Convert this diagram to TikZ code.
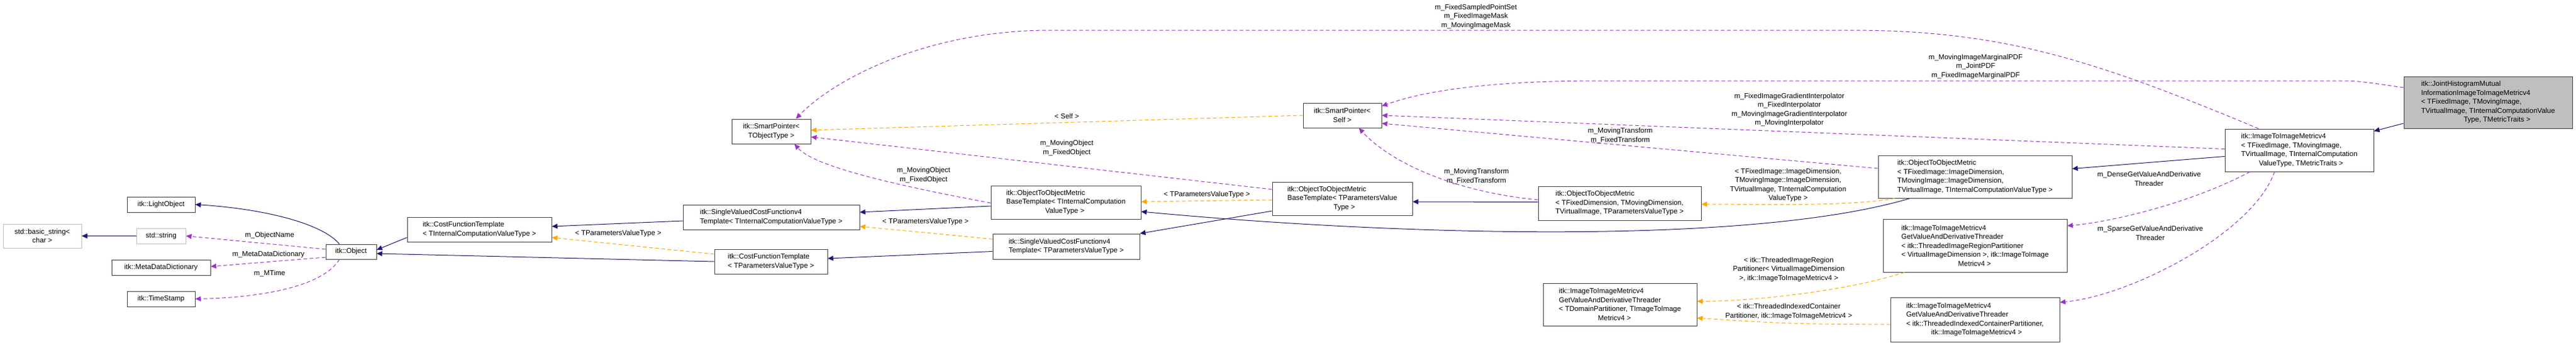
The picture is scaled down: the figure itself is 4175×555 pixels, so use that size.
\documentclass[tikz,border=0pt]{standalone}
\usepackage{fontspec}
\setmainfont{Liberation Sans}
\usetikzlibrary{arrows.meta,calc}
\definecolor{inhc}{RGB}{25,25,112}
\definecolor{usec}{RGB}{153,50,204}
\definecolor{tplc}{RGB}{255,165,0}
\definecolor{grayb}{RGB}{191,191,191}
\tikzset{
  box/.style={draw=black!75,line width=1pt,fill=white,inner sep=3pt,font=\fontsize{11.5}{14.5}\selectfont,align=left},
  extbox/.style={box,draw=grayb,align=center},
  inh/.style={draw=inhc,line width=1pt,-{Triangle[length=9pt,width=8pt]}},
  use/.style={draw=usec,line width=1pt,dash pattern=on 6pt off 4pt,-{Triangle[length=9pt,width=8pt,fill=usec]}},
  tpl/.style={draw=tplc,line width=1pt,dash pattern=on 6pt off 4pt,-{Triangle[length=9pt,width=8pt,fill=tplc]}},
  lbl/.style={font=\fontsize{11.5}{14.5}\selectfont,align=center,inner sep=0pt}
}
\newcommand{\bx}[7]{\node[#1,minimum width=#4pt-#2pt,minimum height=#5pt-#3pt] (#6) at ({(#2+#4)/2},{(#3+#5)/2}) {#7};}
\begin{document}
\begin{tikzpicture}[x=1pt,y=-1pt]
\useasboundingbox (0,0) rectangle (4175,555);
\bx{extbox}{5}{363}{132}{402}{basic}{std::basic\_string<\\char >}
\bx{extbox}{221}{370}{301}{395}{string}{std::string}
\bx{box}{206}{319}{316}{344}{light}{itk::LightObject}
\bx{box}{181}{421}{341}{446}{mdd}{itk::MetaDataDictionary}
\bx{box}{206}{472}{316}{497}{ts}{itk::TimeStamp}
\bx{box}{528}{396}{610}{420}{obj}{itk::Object}
\bx{box}{660}{352}{894}{392}{cftI}{itk::CostFunctionTemplate\\< TInternalComputationValueType >}
\bx{box}{1158}{404}{1341}{444}{cftP}{itk::CostFunctionTemplate\\< TParametersValueType >}
\bx{box}{1107}{332}{1393}{372}{svI}{itk::SingleValuedCostFunctionv4\\Template< TInternalComputationValueType >}
\bx{box}{1609}{379}{1847}{420}{svP}{itk::SingleValuedCostFunctionv4\\Template< TParametersValueType >}
\bx{box,align=center}{1186}{193}{1314}{233}{spT}{itk::SmartPointer<\\TObjectType >}
\bx{box}{1606}{301}{1849}{355}{obI}{itk::ObjectToObjectMetric\\BaseTemplate< TInternalComputation\\\hspace*{5.5em}ValueType >}
\bx{box}{2062}{295}{2289}{349}{obP}{itk::ObjectToObjectMetric\\BaseTemplate< TParametersValue\\\hspace*{6.5em}Type >}
\bx{box,align=center}{2112}{167}{2239}{207}{spS}{itk::SmartPointer<\\Self >}
\bx{box}{2493}{302}{2757}{357}{otD}{itk::ObjectToObjectMetric\\< TFixedDimension, TMovingDimension,\\ TVirtualImage, TParametersValueType >}
\bx{box}{3044}{252}{3358}{321}{otI}{itk::ObjectToObjectMetric\\< TFixedImage::ImageDimension,\\ TMovingImage::ImageDimension,\\ TVirtualImage, TInternalComputationValueType >}
\bx{box}{3606}{209}{3847}{278}{i2i}{itk::ImageToImageMetricv4\\< TFixedImage, TMovingImage,\\ TVirtualImage, TInternalComputation\\\hspace*{2.5em}ValueType, TMetricTraits >}
\bx{box,fill=grayb}{3896}{124}{4169}{208}{jh}{itk::JointHistogramMutual\\InformationImageToImageMetricv4\\< TFixedImage, TMovingImage,\\ TVirtualImage, TInternalComputationValue\\\hspace*{6em}Type, TMetricTraits >}
\bx{box}{2501}{459}{2750}{528}{gD}{itk::ImageToImageMetricv4\\GetValueAndDerivativeThreader\\< TDomainPartitioner, TImageToImage\\\hspace*{5.5em}Metricv4 >}
\bx{box}{3052}{355}{3350}{441}{gR}{itk::ImageToImageMetricv4\\GetValueAndDerivativeThreader\\< itk::ThreadedImageRegionPartitioner\\< VirtualImageDimension >, itk::ImageToImage\\\hspace*{8em}Metricv4 >}
\bx{box}{3064}{482}{3338}{554}{gX}{itk::ImageToImageMetricv4\\GetValueAndDerivativeThreader\\< itk::ThreadedIndexedContainerPartitioner,\\\hspace*{3.5em}itk::ImageToImageMetricv4 >}
% inheritance
\draw[inh] ($(obj.north)+(-19,0)$) .. controls (520,360) and (420,338) .. (light.east);
\draw[inh] (string.west) -- (basic.east|-string.west);
\draw[inh] ($(cftI.west)+(0,13)$) -- ($(obj.east)+(0,-3)$);
\draw[inh] (cftP.west) -- ($(obj.east)+(0,3)$);
\draw[inh] ($(svI.west)+(0,6)$) -- ($(cftI.east)+(0,-5)$);
\draw[inh] ($(svP.west)+(0,8)$) -- ($(cftP.east)+(0,-5)$);
\draw[inh] ($(obI.west)+(0,6)$) -- ($(svI.east)+(0,-8)$);
\draw[inh] ($(obP.west)+(0,20)$) -- (svP.north east);
\draw[inh] ($(otD.west)+(0,-2)$) -- ($(obP.east)+(0,5)$);
\draw[inh] ($(otI.south west)+(52,0)$) .. controls (2850,395) and (2300,385) .. ($(obI.east)+(0,15)$);
\draw[inh] ($(i2i.west)+(0,10)$) -- ($(otI.east)+(0,-13)$);
\draw[inh] ($(jh.west)+(0,34)$) -- ($(i2i.north east)+(0,4)$);
% templates
\draw[tpl] (spS.west) -- ($(spT.east)+(0,-2)$);
\draw[tpl] ($(cftP.west)+(0,-12)$) -- ($(cftI.east)+(0,13)$);
\draw[tpl] ($(svP.west)+(0,-12)$) -- ($(svI.east)+(0,15)$);
\draw[tpl] ($(obP.west)+(0,2)$) -- ($(obI.east)+(0,-1)$);
\draw[tpl] ($(otI.south west)+(27,0)$) .. controls (3000,335) and (2850,331) .. ($(otD.east)+(0,1.5)$);
\draw[tpl] ($(gR.south west)+(35,0)$) .. controls (3000,470) and (2850,488) .. ($(gD.east)+(0,-5)$);
\draw[tpl] ($(gX.west)+(0,8)$) .. controls (2900,525) .. ($(gD.east)+(0,22)$);
% usage
\draw[use] ($(obj.west)+(0,-4)$) -- (string.east);
\draw[use] ($(obj.west)+(0,9)$) -- ($(mdd.east)+(0,-1.5)$);
\draw[use] ($(obj.south)+(-19,0)$) .. controls (520,470) and (400,483) .. (ts.east);
\draw[use] ($(obI.west)+(0,1)$) .. controls (1450,300) and (1320,270) .. ($(spT.south east)+(-27,0)$);
\draw[use] ($(obP.west)+(0,-15)$) -- ($(spT.east)+(0,9)$);
\draw[use] ($(i2i.north)+(-66,0)$) .. controls (3400,100) and (3250,49) .. (3000,49) -- (1702,49) .. controls (1500,49) and (1350,130) .. ($(spT.north)+(40,0)$);
\draw[use] ($(jh.west)+(0,-24)$) .. controls (3820,131) .. (3787,131) -- (2592,131) .. controls (2400,131) and (2300,150) .. ($(spS.east)+(0,-15)$);
\draw[use] ($(i2i.west)+(0,-2)$) -- (spS.east);
\draw[use] ($(otI.west)+(0,-13.5)$) -- ($(spS.east)+(0,13)$);
\draw[use] ($(otD.west)+(0,-5.5)$) .. controls (2350,310) and (2250,260) .. ($(spS.south)+(27,0)$);
\draw[use] ($(i2i.south)+(-80,0)$) .. controls (3550,330) and (3420,360) .. ($(gR.east)+(0,-32)$);
\draw[use] ($(i2i.south)+(-40,0)$) .. controls (3650,380) and (3450,480) .. ($(gX.east)+(0,-28)$);
% labels
\node[lbl] (l1) at (437,382) {m\_ObjectName};
\node[lbl] (l2) at (435,413) {m\_MetaDataDictionary};
\node[lbl] (l3) at (437,443) {m\_MTime};
\node[lbl] (l4) at (1002,379) {< TParametersValueType >};
\node[lbl] (l5) at (1500,360) {< TParametersValueType >};
\node[lbl] (l6) at (1956,316) {< TParametersValueType >};
\node[lbl] (l7) at (1729,188) {< Self >};
\node[lbl] (l8) at (1497,284) {m\_MovingObject\\m\_FixedObject};
\node[lbl] (l9) at (1729,240) {m\_MovingObject\\m\_FixedObject};
\node[lbl] (l10) at (2392,27) {m\_FixedSampledPointSet\\m\_FixedImageMask\\m\_MovingImageMask};
\node[lbl] (l11) at (3202,108) {m\_MovingImageMarginalPDF\\m\_JointPDF\\m\_FixedImageMarginalPDF};
\node[lbl] (l12) at (2900,178) {m\_FixedImageGradientInterpolator\\m\_FixedInterpolator\\m\_MovingImageGradientInterpolator\\m\_MovingInterpolator};
\node[lbl] (l13) at (2626,220) {m\_MovingTransform\\m\_FixedTransform};
\node[lbl] (l14) at (2393,286) {m\_MovingTransform\\m\_FixedTransform};
\node[lbl] (l15) at (2898,300) {< TFixedImage::ImageDimension,\\TMovingImage::ImageDimension,\\TVirtualImage, TInternalComputation\\ValueType >};
\node[lbl] (l16) at (3483,290) {m\_DenseGetValueAndDerivative\\Threader};
\node[lbl] (l17) at (3485,378) {m\_SparseGetValueAndDerivative\\Threader};
\node[lbl] (l18) at (2899,437) {< itk::ThreadedImageRegion\\Partitioner< VirtualImageDimension\\>, itk::ImageToImageMetricv4 >};
\node[lbl] (l19) at (2899,505) {< itk::ThreadedIndexedContainer\\Partitioner, itk::ImageToImageMetricv4 >};
\end{tikzpicture}
\end{document}
